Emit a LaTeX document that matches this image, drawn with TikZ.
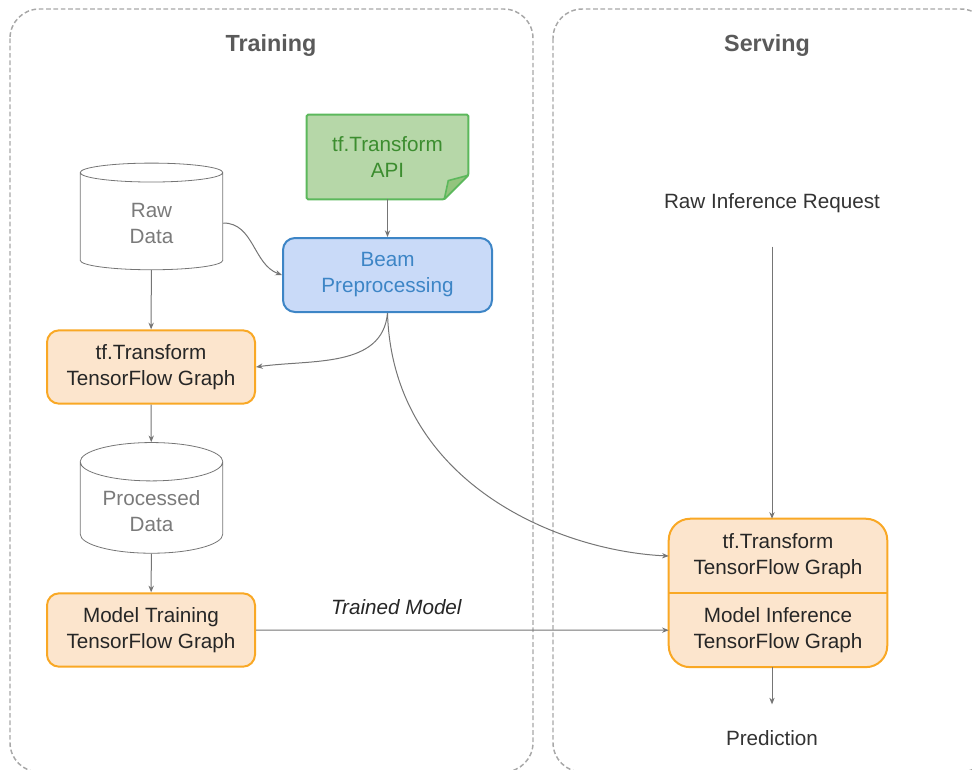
\documentclass[tikz,border=0pt]{standalone}
\usepackage{fontspec}
\setmainfont{Liberation Sans}
\usetikzlibrary{arrows.meta,positioning,shapes.geometric,backgrounds}

\definecolor{linegray}{HTML}{757575}
\definecolor{dashgray}{HTML}{A8A8A8}
\definecolor{titlegray}{HTML}{5A5A5A}
\definecolor{textgray}{HTML}{333333}
\definecolor{storegray}{HTML}{7A7A7A}
\definecolor{notefill}{HTML}{B6D7A8}
\definecolor{noteline}{HTML}{5CB85C}
\definecolor{notefold}{HTML}{93C47D}
\definecolor{notetext}{HTML}{3C8D2F}
\definecolor{beamfill}{HTML}{C9DAF8}
\definecolor{beamline}{HTML}{3D85C6}
\definecolor{tffill}{HTML}{FCE5CD}
\definecolor{tfline}{HTML}{F9A825}

\tikzset{
  every node/.style={font=\fontsize{15.5}{19.5}\selectfont, align=center},
  container/.style={draw=dashgray, line width=1.1pt, dash pattern=on 3.5pt off 2pt, rounded corners=22pt},
  paneltitle/.style={font=\fontsize{17.5}{21}\selectfont\bfseries, text=titlegray},
  plaintext/.style={text=textgray},
  datastore/.style={cylinder, shape border rotate=90, aspect=0.36, draw=linegray, line width=0.6pt,
    minimum width=107pt, minimum height=80pt, text=storegray},
  tfbox/.style={draw=tfline, fill=tffill, line width=1.5pt, rounded corners=9pt,
    minimum width=156pt, minimum height=55pt, text=black!85},
  beambox/.style={draw=beamline, fill=beamfill, line width=1.5pt, rounded corners=9pt,
    minimum width=156.75pt, minimum height=55.5pt, text=beamline},
  notebox/.style={minimum width=120.75pt, minimum height=63pt, text=notetext},
  servpart/.style={minimum width=163.5pt, minimum height=55pt, inner sep=0pt, text=black!85},
  arrow/.style={draw=linegray, line width=0.75pt, -{Stealth[length=5pt,width=4pt]}},
  edgelabel/.style={font=\fontsize{15.5}{19.5}\selectfont\itshape, text=black!85}
}

\begin{document}
\begin{tikzpicture}[x=0.75pt,y=-0.75pt]
  \useasboundingbox (0,0) rectangle (972,769);
  \clip (0,0) rectangle (972,769);

  % the two panels
  \draw[container] (10,9) rectangle (533,772);
  \draw[container] (553,9) rectangle (990,772);
  \node[paneltitle] (traintitle) at (271,46) {Training};
  \node[paneltitle] (servetitle) at (767,46) {Serving};

  % training side
  \node[notebox] (api) at (387.5,157) {tf.Transform\\API};
  \node[beambox] (beam) at (387.5,275) {Beam\\Preprocessing};
  \node[datastore] (rawdata) at (151.5,223) {Raw\\Data};
  \node[tfbox] (tftrain) at (151,367) {tf.Transform\\TensorFlow Graph};
  \node[datastore, minimum height=83pt] (procdata) at (151.5,511) {Processed\\Data};
  \node[tfbox] (modeltrain) at (151,630) {Model Training\\TensorFlow Graph};

  % serving side
  \node[plaintext] (request) at (772,203) {Raw Inference Request};
  \node[servpart, minimum height=55.5pt] (servtf) at (778,556) {tf.Transform\\TensorFlow Graph};
  \node[servpart, below=0pt of servtf] (servinf) {Model Inference\\TensorFlow Graph};
  \node[plaintext] (prediction) at (772,738) {Prediction};

  \begin{scope}[on background layer]
    \filldraw[fill=tffill, draw=tfline, line width=1.5pt, rounded corners=16pt]
      (servtf.north west) rectangle (servinf.south east);
    \filldraw[fill=notefill, draw=noteline, line width=1.5pt, rounded corners=1pt]
      (api.north west) -- (api.north east) -- ([yshift=18pt]api.south east)
      -- ([xshift=-18pt]api.south east) -- (api.south west) -- cycle;
    \filldraw[fill=notefold, draw=noteline, line width=1.2pt, line join=round]
      ([yshift=18pt]api.south east) -- ([xshift=-15pt,yshift=14pt]api.south east)
      -- ([xshift=-18pt]api.south east) -- cycle;
  \end{scope}
  \draw[tfline, line width=1.5pt] (servtf.south west) -- (servtf.south east);

  % connectors
  \draw[arrow] (api) -- (beam);
  \draw[arrow] (rawdata.east) to[out=0,in=160] (beam.west);
  \draw[arrow] (rawdata) -- (tftrain);
  \draw[arrow] (beam.south) to[out=-95,in=8] (tftrain.east);
  \draw[arrow] (beam.south) .. controls +(5,170) and +(-110,-5) .. (servtf.west);
  \draw[arrow] (tftrain) -- (procdata);
  \draw[arrow] (procdata) -- (modeltrain);
  \draw[arrow] (modeltrain) -- node[pos=0.34, above=7.5pt, edgelabel] {Trained Model} (servinf);
  \draw[arrow, shorten <=22pt] (request) -- (request |- servtf.north);
  \draw[arrow, shorten >=16pt] (prediction |- servinf.south) -- (prediction);
\end{tikzpicture}
\end{document}
